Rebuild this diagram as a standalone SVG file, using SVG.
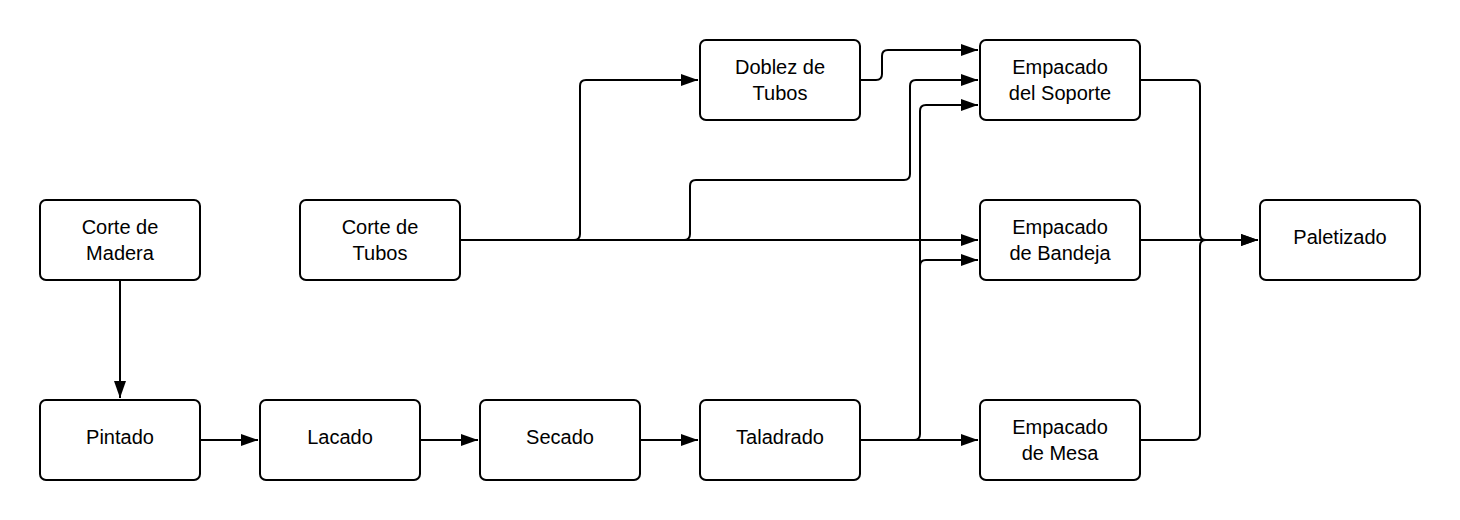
<svg xmlns="http://www.w3.org/2000/svg" width="1460" height="520" viewBox="0 0 1460 520">
<style>
.n rect{fill:#fff;stroke:#000;stroke-width:2}
.n text{font-family:"Liberation Sans",Arial,sans-serif;font-size:20px;fill:#000;text-anchor:middle}
.c path{fill:none;stroke:#000;stroke-width:2;stroke-linejoin:round}
</style>
<defs>
<marker id="a" markerUnits="userSpaceOnUse" markerWidth="18" markerHeight="14" refX="17" refY="7" orient="auto">
<path d="M0,1 L17,7 L0,13 Z" fill="#000"/>
</marker>
</defs>
<rect width="1460" height="520" fill="#fff"/>
<g class="c">
<path d="M120,280 V398" marker-end="url(#a)"/>
<path d="M200,440 H258" marker-end="url(#a)"/>
<path d="M420,440 H478" marker-end="url(#a)"/>
<path d="M640,440 H698" marker-end="url(#a)"/>
<path d="M460,240 H574 Q580,240 580,234 V86 Q580,80 586,80 H698" marker-end="url(#a)"/>
<path d="M460,240 H684 Q690,240 690,234 V186 Q690,180 696,180 H904 Q910,180 910,174 V86 Q910,80 916,80 H978" marker-end="url(#a)"/>
<path d="M460,240 H978" marker-end="url(#a)"/>
<path d="M860,80 H876 Q882,80 882,74 V56 Q882,50 888,50 H978" marker-end="url(#a)"/>
<path d="M860,440 H914 Q920,440 920,434 V111 Q920,105 926,105 H978" marker-end="url(#a)"/>
<path d="M920,300 V266 Q920,260 926,260 H978" marker-end="url(#a)"/>
<path d="M860,440 H978" marker-end="url(#a)"/>
<path d="M1140,80 H1194 Q1200,80 1200,86 V234 Q1200,240 1206,240 H1258" marker-end="url(#a)"/>
<path d="M1140,240 H1258" marker-end="url(#a)"/>
<path d="M1140,440 H1194 Q1200,440 1200,434 V246 Q1200,240 1206,240"/>
</g>
<g id="corte-madera" class="n"><rect x="40" y="200" width="160" height="80" rx="6"/><text x="120" y="234">Corte de</text><text x="120" y="260">Madera</text></g>
<g id="corte-tubos" class="n"><rect x="300" y="200" width="160" height="80" rx="6"/><text x="380" y="234">Corte de</text><text x="380" y="260">Tubos</text></g>
<g id="doblez" class="n"><rect x="700" y="40" width="160" height="80" rx="6"/><text x="780" y="74">Doblez de</text><text x="780" y="100">Tubos</text></g>
<g id="emp-soporte" class="n"><rect x="980" y="40" width="160" height="80" rx="6"/><text x="1060" y="74">Empacado</text><text x="1060" y="100">del Soporte</text></g>
<g id="emp-bandeja" class="n"><rect x="980" y="200" width="160" height="80" rx="6"/><text x="1060" y="234">Empacado</text><text x="1060" y="260">de Bandeja</text></g>
<g id="paletizado" class="n"><rect x="1260" y="200" width="160" height="80" rx="6"/><text x="1340" y="244">Paletizado</text></g>
<g id="pintado" class="n"><rect x="40" y="400" width="160" height="80" rx="6"/><text x="120" y="444">Pintado</text></g>
<g id="lacado" class="n"><rect x="260" y="400" width="160" height="80" rx="6"/><text x="340" y="444">Lacado</text></g>
<g id="secado" class="n"><rect x="480" y="400" width="160" height="80" rx="6"/><text x="560" y="444">Secado</text></g>
<g id="taladrado" class="n"><rect x="700" y="400" width="160" height="80" rx="6"/><text x="780" y="444">Taladrado</text></g>
<g id="emp-mesa" class="n"><rect x="980" y="400" width="160" height="80" rx="6"/><text x="1060" y="434">Empacado</text><text x="1060" y="460">de Mesa</text></g>
</svg>
